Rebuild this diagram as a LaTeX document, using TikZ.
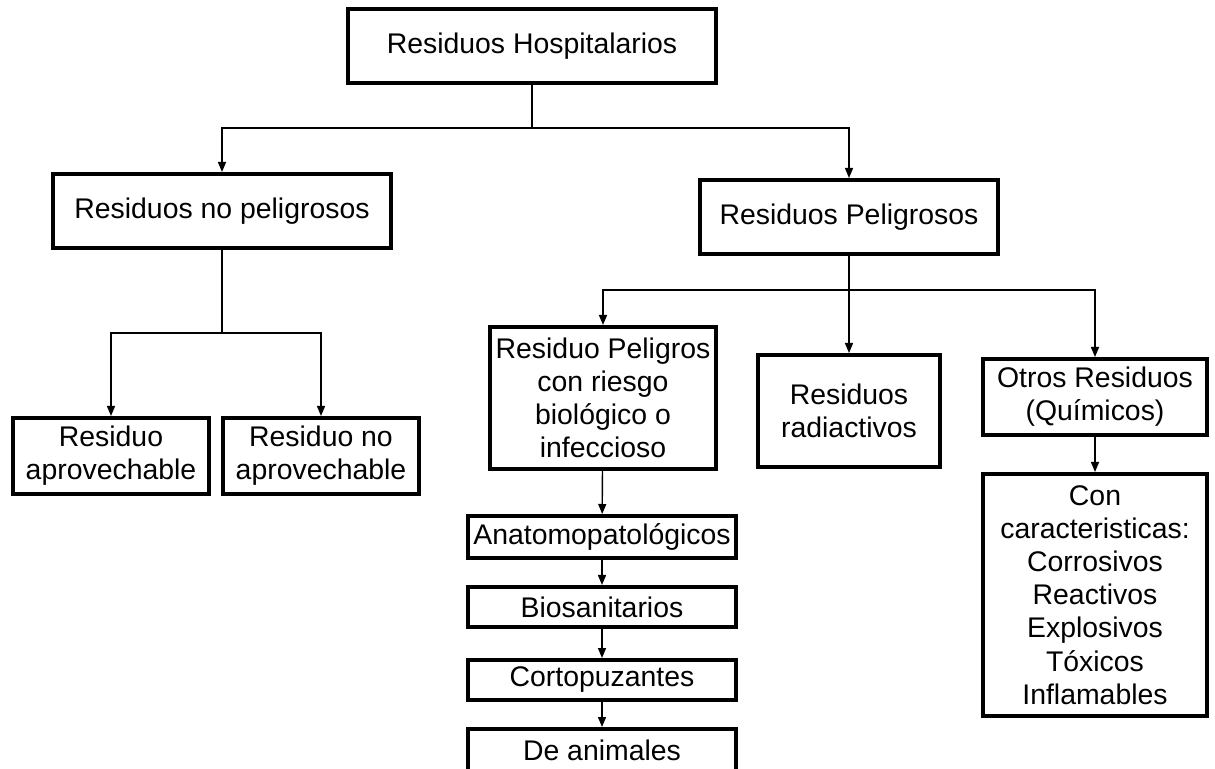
\documentclass[tikz,border=0pt]{standalone}
\usepackage{fontspec}
\setmainfont{Liberation Sans}
\usetikzlibrary{arrows.meta}

\begin{document}
\begin{tikzpicture}
    [x=0.5pt, y=-0.5pt,
     Box/.style={rectangle, draw=black, line width=2pt, align=center, inner sep=0pt,
                 font=\fontsize{14.2}{16.6}\selectfont},
     Link/.style={draw=black, line width=0.7pt, -{Triangle[length=5pt,width=4pt]}}]
	\useasboundingbox (0,0) rectangle (1215,769);
	\node[Box, minimum width=184pt, minimum height=37pt] (Top) at (532,46) {Residuos Hospitalarios};
	\node[Box, minimum width=169pt, minimum height=37pt] (NoPel) at (222,211) {Residuos no peligrosos};
	\node[Box, minimum width=149pt, minimum height=37pt] (Pel) at (849,217) {Residuos Peligrosos};
	\node[Box, minimum width=98pt, minimum height=38pt] (Apr) at (111,456) {Residuo\\aprovechable};
	\node[Box, minimum width=98pt, minimum height=38pt] (NoApr) at (321,456) {Residuo no\\aprovechable};
	\node[Box, minimum width=113pt, minimum height=71pt] (Bio) at (603,398) {Residuo Peligros\\con riesgo\\biológico o\\infeccioso};
	\node[Box, minimum width=91pt, minimum height=56pt] (Rad) at (849,411) {Residuos\\radiactivos};
	\node[Box, minimum width=112pt, minimum height=38pt] (Otros) at (1095,397) {Otros Residuos\\(Químicos)};
	\node[Box, minimum width=112pt, minimum height=121pt] (Con) at (1095,595) {Con\\caracteristicas:\\Corrosivos\\Reactivos\\Explosivos\\Tóxicos\\Inflamables};
	\node[Box, minimum width=134pt, minimum height=21pt] (Anat) at (602,537) {Anatomopatológicos};
	\node[Box, minimum width=134pt, minimum height=20pt] (Biosan) at (602,607) {Biosanitarios};
	\node[Box, minimum width=134pt, minimum height=20pt] (Corto) at (602,680) {Cortopuzantes};
	\node[Box, minimum width=134pt, minimum height=21pt] (Anim) at (602,750) {De animales};
	% ramas
	\coordinate (ForkTop) at (532,128);
	\coordinate (ForkNoPel) at (222,333);
	\coordinate (ForkPel) at (849,290);
	\draw[Link] (Top.south) -- (ForkTop) -| (NoPel.north);
	\draw[Link] (ForkTop) -| (Pel.north);
	\draw[Link] (NoPel.south) -- (ForkNoPel) -| (Apr.north);
	\draw[Link] (ForkNoPel) -| (NoApr.north);
	\draw[Link] (Pel.south) -- (Rad.north);
	\draw[Link] (ForkPel) -| (Bio.north);
	\draw[Link] (ForkPel) -| (Otros.north);
	\draw[Link] (Otros) -- (Con);
	\foreach \a/\b in {Bio/Anat, Anat/Biosan, Biosan/Corto, Corto/Anim}
		\draw[Link] (\a) -- (\b);
\end{tikzpicture}
\end{document}
